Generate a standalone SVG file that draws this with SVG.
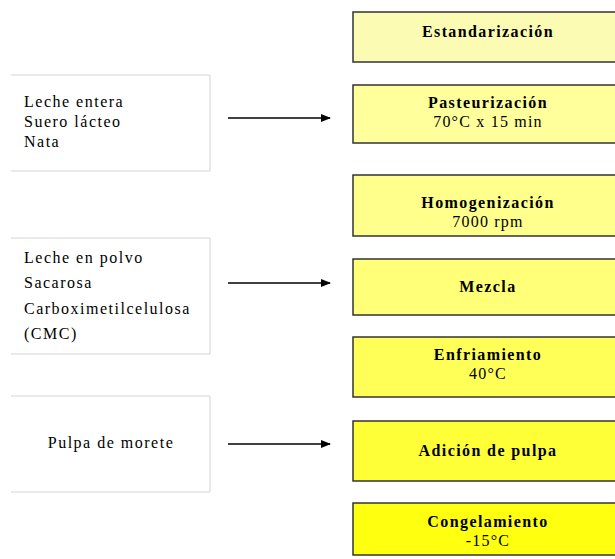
<svg xmlns="http://www.w3.org/2000/svg" width="615" height="559" viewBox="0 0 615 559">
<style>
.step rect{stroke:#333;stroke-width:1.5}
.t{font-family:"Liberation Serif","Times New Roman",serif;font-size:16px;fill:#000;letter-spacing:1.2px}
.b{font-weight:bold;letter-spacing:1.4px}
.c{text-anchor:middle}
.l{letter-spacing:1.5px}
.src line{stroke:#d4d4d4;stroke-width:1}
.arr{stroke:#000;stroke-width:1.5;fill:none}
</style>
<defs>
<marker id="ah" markerWidth="10" markerHeight="8" refX="9" refY="4" orient="auto" markerUnits="userSpaceOnUse">
<path d="M0,0 L10,4 L0,8 Z" fill="#000"/>
</marker>
</defs>
<rect width="615" height="559" fill="#fff"/>
<g id="src1" class="src">
<line x1="11" y1="75" x2="210" y2="75"/><line x1="210" y1="75" x2="210" y2="171"/><line x1="11" y1="171" x2="210" y2="171"/>
<text class="t l" x="24" y="107">Leche entera</text>
<text class="t l" x="24" y="127">Suero lácteo</text>
<text class="t l" x="24" y="147">Nata</text>
</g>
<g id="src2" class="src">
<line x1="11" y1="238" x2="210" y2="238"/><line x1="210" y1="238" x2="210" y2="354"/><line x1="11" y1="354" x2="210" y2="354"/>
<text class="t l" x="24" y="263">Leche en polvo</text>
<text class="t l" x="24" y="288">Sacarosa</text>
<text class="t l" x="24" y="314">Carboximetilcelulosa</text>
<text class="t l" x="24" y="339">(CMC)</text>
</g>
<g id="src3" class="src">
<line x1="11" y1="396" x2="210" y2="396"/><line x1="210" y1="396" x2="210" y2="492"/><line x1="11" y1="492" x2="210" y2="492"/>
<text class="t l c" x="111" y="448">Pulpa de morete</text>
</g>
<g id="s1" class="step"><rect x="353" y="12" width="270" height="50" fill="#fbfbb4"/>
<text class="t b c" x="488" y="37">Estandarización</text></g>
<g id="s2" class="step"><rect x="353" y="85" width="270" height="58" fill="#ffff9c"/>
<text class="t b c" x="488" y="108">Pasteurización</text>
<text class="t c" x="488" y="127">70°C x 15 min</text></g>
<g id="s3" class="step"><rect x="353" y="175" width="270" height="61" fill="#ffff8c"/>
<text class="t b c" x="488" y="208">Homogenización</text>
<text class="t c" x="488" y="227">7000 rpm</text></g>
<g id="s4" class="step"><rect x="353" y="259" width="270" height="56" fill="#ffff78"/>
<text class="t b c" x="488" y="292">Mezcla</text></g>
<g id="s5" class="step"><rect x="353" y="337" width="270" height="60" fill="#ffff58"/>
<text class="t b c" x="488" y="360">Enfriamiento</text>
<text class="t c" x="488" y="379">40°C</text></g>
<g id="s6" class="step"><rect x="353" y="421" width="270" height="60" fill="#ffff38"/>
<text class="t b c" x="488" y="456">Adición de pulpa</text></g>
<g id="s7" class="step"><rect x="353" y="503" width="270" height="52" fill="#ffff10"/>
<text class="t b c" x="488" y="527">Congelamiento</text>
<text class="t c" x="488" y="546">-15°C</text></g>
<g id="connectors">
<line class="arr" x1="228" y1="118" x2="330" y2="118" marker-end="url(#ah)"/>
<line class="arr" x1="228" y1="283" x2="330" y2="283" marker-end="url(#ah)"/>
<line class="arr" x1="228" y1="444" x2="330" y2="444" marker-end="url(#ah)"/>
</g>
</svg>
